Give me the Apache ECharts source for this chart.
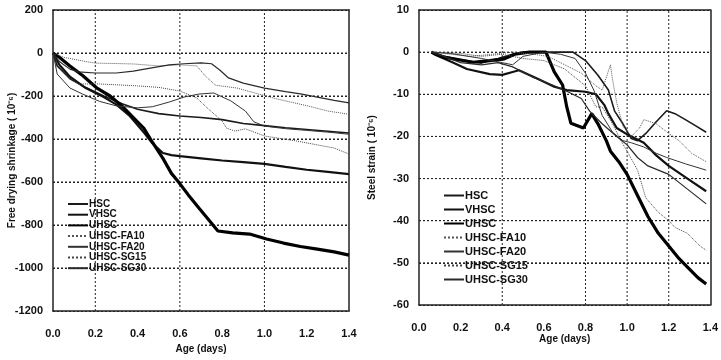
<!DOCTYPE html>
<html>
<head>
<meta charset="utf-8">
<script src="https://cdn.jsdelivr.net/npm/echarts@6/dist/echarts.min.js"></script>
<style>
  html, body { margin: 0; padding: 0; background: #fff; }
  #main { width: 721px; height: 360px; }
</style>
</head>
<body>
<div id="main"></div>
<script>
// legend / mix names
const mixes = ["HSC", "VHSC", "UHSC", "UHSC-FA10", "UHSC-FA20", "UHSC-SG15", "UHSC-SG30"];

// ticks
const ageTicks = [0.0, 0.2, 0.4, 0.6, 0.8, 1.0, 1.2, 1.4];
const shrinkTicks = [200, 0, -200, -400, -600, -800, -1000, -1200];
const strainTicks = [10, 0, -10, -20, -30, -40, -50, -60];
// dotted gridlines the original draws
const leftGridAges = [0.2, 0.6, 1.0];
const rightGridAges = [0.4, 0.8, 1.0, 1.2];
const leftGridShrink = [0, -200, -400, -600, -800, -1000];
const rightGridStrain = [0, -10, -20, -30, -40, -50];

// free drying shrinkage, [age (days), 10^-6]
const shrinkHSC = [[0, 0], [0.02, -60], [0.08, -120], [0.14, -153], [0.24, -200], [0.33, -237], [0.4, -262], [0.5, -282], [0.6, -293], [0.7, -300], [0.8, -310], [0.9, -328], [1.0, -338], [1.1, -348], [1.2, -356], [1.3, -364], [1.4, -372]];
const shrinkVHSC = [[0, 0], [0.03, -55], [0.08, -110], [0.15, -160], [0.24, -205], [0.3, -240], [0.36, -290], [0.43, -370], [0.47, -420], [0.52, -465], [0.56, -475], [0.6, -480], [0.7, -490], [0.8, -500], [0.9, -508], [1.0, -516], [1.1, -530], [1.2, -543], [1.3, -553], [1.4, -563]];
const shrinkUHSC = [[0, 0], [0.03, -20], [0.08, -60], [0.14, -105], [0.21, -165], [0.27, -200], [0.33, -250], [0.38, -300], [0.43, -350], [0.47, -415], [0.52, -490], [0.56, -560], [0.59, -595], [0.64, -660], [0.69, -721], [0.74, -780], [0.78, -828], [0.85, -837], [0.93, -842], [1.01, -865], [1.09, -884], [1.17, -900], [1.25, -912], [1.33, -925], [1.4, -940]];
const shrinkFA10 = [[0, 0], [0.05, -20], [0.14, -37], [0.2, -47], [0.3, -49], [0.38, -51], [0.5, -60], [0.6, -55], [0.68, -60], [0.72, -107], [0.77, -150], [0.87, -163], [0.97, -190], [1.06, -214], [1.2, -245], [1.3, -270], [1.4, -285]];
const shrinkFA20 = [[0, 0], [0.02, -98], [0.08, -163], [0.14, -191], [0.22, -225], [0.3, -246], [0.4, -255], [0.47, -250], [0.55, -228], [0.62, -205], [0.69, -191], [0.76, -186], [0.84, -222], [0.91, -270], [0.95, -320], [1.0, -340], [1.1, -352], [1.2, -360], [1.3, -368], [1.4, -378]];
const shrinkSG15 = [[0, 0], [0.03, -70], [0.07, -110], [0.12, -144], [0.22, -144], [0.3, -148], [0.4, -153], [0.5, -160], [0.6, -177], [0.68, -209], [0.73, -256], [0.8, -316], [0.82, -349], [0.86, -363], [0.91, -353], [1.0, -386], [1.15, -409], [1.33, -442], [1.4, -470]];
const shrinkSG30 = [[0, 0], [0.03, -40], [0.08, -75], [0.12, -88], [0.2, -93], [0.3, -93], [0.38, -84], [0.46, -70], [0.55, -55], [0.62, -50], [0.7, -46], [0.75, -50], [0.79, -80], [0.83, -116], [0.9, -140], [1.0, -163], [1.1, -180], [1.17, -190], [1.25, -205], [1.33, -220], [1.4, -232]];

// steel strain, [age (days), 10^-6]
const strainHSC = [[0.06, 0], [0.12, -1], [0.2, -1.8], [0.3, -2.6], [0.38, -1.5], [0.45, -0.5], [0.5, 0], [0.62, 0], [0.74, 0], [0.8, -2], [0.86, -5.5], [0.91, -9], [0.94, -14], [0.98, -17], [1.02, -20.5], [1.05, -21], [1.09, -19.3], [1.14, -16.5], [1.19, -13.9], [1.23, -14.6], [1.28, -16], [1.33, -17.5], [1.38, -19]];
const strainVHSC = [[0.06, 0], [0.08, -0.7], [0.16, -2.4], [0.23, -4], [0.34, -5.2], [0.4, -5.4], [0.45, -4.7], [0.48, -4.3], [0.57, -6.3], [0.65, -8.2], [0.71, -9], [0.8, -9.4], [0.85, -10], [0.89, -12.5], [0.91, -14.6], [0.95, -18], [1.0, -19.5], [1.08, -21.5], [1.14, -24.5], [1.2, -27], [1.29, -30], [1.38, -33]];
const strainUHSC = [[0.06, 0], [0.12, -1.2], [0.26, -2.4], [0.34, -2], [0.41, -1.6], [0.46, -0.5], [0.53, 0], [0.61, 0], [0.65, -4.7], [0.69, -7.8], [0.71, -13], [0.73, -16.9], [0.79, -18], [0.83, -14.6], [0.86, -17], [0.9, -21], [0.92, -23.5], [0.96, -26], [1.0, -29], [1.05, -34], [1.1, -39], [1.15, -43], [1.2, -46], [1.25, -49], [1.29, -51], [1.34, -53.5], [1.38, -55]];
const strainFA10 = [[0.06, 0], [0.15, -0.5], [0.25, -1], [0.35, -0.5], [0.45, 0], [0.55, -0.5], [0.62, -1], [0.7, -3], [0.78, -5], [0.85, -8], [0.88, -9], [0.92, -3], [0.93, -6.5], [0.95, -12], [0.98, -17.6], [1.02, -20], [1.06, -18], [1.08, -16], [1.14, -17], [1.2, -19.3], [1.25, -21], [1.31, -24], [1.38, -26]];
const strainFA20 = [[0.06, 0], [0.15, -0.3], [0.3, -1.5], [0.4, -2.5], [0.45, -3], [0.5, -1], [0.6, 0], [0.68, -0.5], [0.75, -1.5], [0.8, -5], [0.84, -9], [0.88, -15], [0.93, -19], [0.98, -21], [1.02, -21.5], [1.08, -22.5], [1.14, -24], [1.19, -25], [1.28, -26.5], [1.38, -28]];
const strainSG15 = [[0.06, 0], [0.2, -0.3], [0.3, -1], [0.4, -0.5], [0.5, -1.5], [0.6, -2], [0.7, -4], [0.8, -8], [0.85, -13], [0.88, -13], [0.93, -17], [0.97, -21], [1.0, -23.5], [1.05, -28], [1.09, -34.6], [1.15, -38], [1.2, -40], [1.23, -41.6], [1.29, -43], [1.35, -46], [1.38, -47]];
const strainSG30 = [[0.06, 0], [0.12, -1], [0.2, -2.5], [0.3, -3], [0.38, -2.5], [0.45, -3.5], [0.55, -6], [0.65, -8], [0.72, -9.5], [0.78, -11], [0.82, -14], [0.88, -17], [0.95, -20], [1.0, -22], [1.05, -25], [1.1, -27], [1.2, -29], [1.29, -32.5], [1.38, -36]];

const shrinkData = [shrinkHSC, shrinkVHSC, shrinkUHSC, shrinkFA10, shrinkFA20, shrinkSG15, shrinkSG30];
const strainData = [strainHSC, strainVHSC, strainUHSC, strainFA10, strainFA20, strainSG15, strainSG30];

// line look per mix
const looks = [
  { width: 1.6, type: "solid", color: "#1a1a1a" },
  { width: 2.2, type: "solid", color: "#111" },
  { width: 3.2, type: "solid", color: "#000" },
  { width: 1, type: "dotted", color: "#555" },
  { width: 1, type: "solid", color: "#333" },
  { width: 1, type: "dotted", color: "#444" },
  { width: 1.2, type: "solid", color: "#2a2a2a" },
];

const font = "Liberation Sans";
const ink = "#111";
const edge = { show: true, onZero: false, lineStyle: { color: "#222", width: 1.5 } };
const dots = { color: "#222", width: 1, type: [2, 2] };

var myChart = echarts.init(document.getElementById("main"));

const makeSeries = (data, idx) =>
  data.map((d, i) => ({
    name: mixes[i],
    type: "line",
    xAxisIndex: idx,
    yAxisIndex: idx,
    data: d,
    showSymbol: false,
    symbol: "circle",
    symbolSize: 1,
    lineStyle: { width: looks[i].width, type: looks[i].type, color: looks[i].color },
    itemStyle: { color: looks[i].color },
  }));

// dotted gridlines drawn as plain two-point lines through the axes
const gridSeries = (idx, ages, values, xr, yr) => {
  const one = (pts) => ({
    type: "line",
    xAxisIndex: idx,
    yAxisIndex: idx,
    data: pts,
    silent: true,
    showSymbol: false,
    symbol: "none",
    clip: false,
    lineStyle: dots,
  });
  return [
    ...ages.map((a) => one([[a, yr[0]], [a, yr[1]]])),
    ...values.map((v) => one([[xr[0], v], [xr[1], v]])),
  ];
};

const xAxisBase = (name, gap) => ({
  type: "value",
  min: ageTicks[0],
  max: ageTicks[ageTicks.length - 1],
  interval: 0.2,
  name: name,
  nameLocation: "middle",
  nameGap: gap,
  nameMoveOverlap: false,
  nameTextStyle: { fontFamily: font, fontWeight: "bold", fontSize: 10, color: ink },
  axisLine: edge,
  axisTick: { show: false },
  splitLine: { show: false },
  axisLabel: {
    margin: 17,
    fontFamily: font,
    fontWeight: "bold",
    fontSize: 11,
    color: ink,
    formatter: (v) => v.toFixed(1),
  },
});

const yAxisBase = (ticks, name, gap) => ({
  type: "value",
  min: ticks[ticks.length - 1],
  max: ticks[0],
  interval: ticks[0] - ticks[1],
  name: name,
  nameLocation: "middle",
  nameGap: gap,
  nameMoveOverlap: false,
  nameTextStyle: { fontFamily: font, fontWeight: "bold", fontSize: 10, color: ink },
  axisLine: edge,
  axisTick: { show: false },
  splitLine: { show: true, lineStyle: dots },
  axisLabel: {
    margin: 10,
    fontFamily: font,
    fontWeight: "bold",
    fontSize: 11,
    color: ink,
    formatter: (v) => String(v),
  },
});

// plain frame edges on the top and right
const frameX = (gi) => ({
  type: "value", gridIndex: gi, position: "top", min: ageTicks[0], max: ageTicks[ageTicks.length - 1],
  axisLine: edge, axisTick: { show: false }, axisLabel: { show: false }, splitLine: { show: false },
});
const frameY = (gi, ticks) => ({
  type: "value", gridIndex: gi, position: "right", min: ticks[ticks.length - 1], max: ticks[0],
  axisLine: edge, axisTick: { show: false }, axisLabel: { show: false }, splitLine: { show: false },
});

const legendBase = (left, top, size, gap) => ({
  data: mixes,
  orient: "vertical",
  left: left,
  top: top,
  itemWidth: 20,
  itemHeight: 8,
  itemGap: gap,
  selectedMode: false,
  itemStyle: { opacity: 0, borderWidth: 0 },
  textStyle: {
    fontFamily: font,
    fontWeight: "bold",
    fontSize: size,
    lineHeight: size,
    color: ink,
    padding: [0, 0, 0, -4],
  },
});

const ageRange = [ageTicks[0], ageTicks[ageTicks.length - 1]];

const option = {
  animation: false,
  grid: [
    { left: 53, top: 10, width: 296, height: 301 },
    { left: 419, top: 10, width: 304, height: 295 },
  ],
  xAxis: [
    Object.assign(xAxisBase("Age (days)", 33), { gridIndex: 0 }),
    Object.assign(xAxisBase("Age (days)", 29), { gridIndex: 1 }),
    frameX(0),
    frameX(1),
  ],
  yAxis: [
    Object.assign(yAxisBase(shrinkTicks, "Free drying shrinkage ( 10⁻⁶)", 36), { gridIndex: 0 }),
    Object.assign(yAxisBase(strainTicks, "Steel strain ( 10⁻⁶)", 42), { gridIndex: 1 }),
    frameY(0, shrinkTicks),
    frameY(1, strainTicks),
  ],
  legend: [legendBase(62, 194, 10, 0.7), legendBase(438, 185, 11, 3)],
  series: [
    ...gridSeries(0, leftGridAges, leftGridShrink, ageRange, [shrinkTicks[shrinkTicks.length - 1], shrinkTicks[0]]),
    ...gridSeries(1, rightGridAges, rightGridStrain, ageRange, [strainTicks[strainTicks.length - 1], strainTicks[0]]),
    ...makeSeries(shrinkData, 0),
    ...makeSeries(strainData, 1),
  ],
};

option && myChart.setOption(option);
</script>
</body>
</html>
